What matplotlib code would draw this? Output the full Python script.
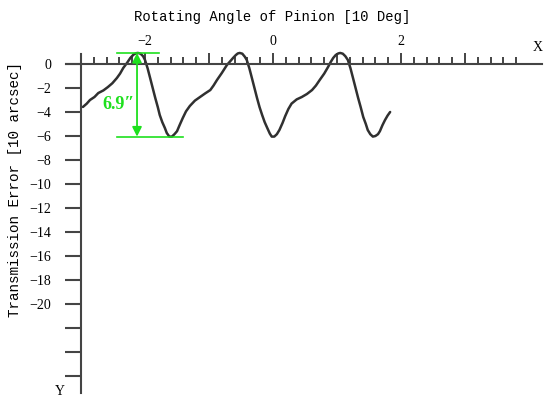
import numpy as np
import matplotlib
matplotlib.use('Agg')
import matplotlib.pyplot as plt
from matplotlib.ticker import FixedLocator, FixedFormatter

# transmission error curve (x: 10 deg, y: 10 arcsec)
angle = [-2.97, -2.91, -2.86, -2.79, -2.73, -2.65, -2.58, -2.51, -2.44, -2.39,
         -2.34, -2.28, -2.23, -2.18, -2.14, -2.11, -2.07, -2.03, -2.0, -1.96,
         -1.92, -1.88, -1.84, -1.80, -1.77, -1.73, -1.69, -1.66, -1.62, -1.58,
         -1.54, -1.50, -1.46, -1.41, -1.36, -1.30, -1.22, -1.14, -1.06, -0.98,
         -0.93, -0.875, -0.80, -0.72, -0.67, -0.625, -0.58, -0.55, -0.52, -0.48,
         -0.44, -0.41, -0.37, -0.33, -0.29, -0.25, -0.21, -0.17, -0.13, -0.09,
         -0.05, -0.02, 0.02, 0.06, 0.10, 0.15, 0.19, 0.24, 0.29, 0.37,
         0.45, 0.53, 0.61, 0.67, 0.73, 0.80, 0.86, 0.90, 0.94, 0.98,
         1.02, 1.05, 1.09, 1.13, 1.17, 1.21, 1.25, 1.29, 1.33, 1.37,
         1.41, 1.45, 1.48, 1.52, 1.56, 1.60, 1.64, 1.67, 1.71, 1.75,
         1.79, 1.83]
error = [-3.58, -3.3, -3.0, -2.75, -2.42, -2.2, -1.92, -1.6, -1.17, -0.8,
         -0.33, 0.1, 0.5, 0.78, 0.9, 0.92, 0.86, 0.65, 0.33, -0.35,
         -1.17, -2.0, -2.83, -3.6, -4.25, -4.85, -5.33, -5.75, -6.05, -6.05,
         -5.85, -5.6, -5.1, -4.5, -3.95, -3.5, -3.05, -2.75, -2.45, -2.17,
         -1.8, -1.33, -0.75, -0.08, 0.22, 0.5, 0.75, 0.88, 0.92, 0.86,
         0.6, 0.33, -0.35, -1.17, -2.0, -2.83, -3.6, -4.25, -4.85, -5.33,
         -5.8, -6.05, -6.05, -5.85, -5.5, -4.9, -4.35, -3.75, -3.3, -2.95,
         -2.75, -2.5, -2.17, -1.8, -1.33, -0.8, -0.25, 0.15, 0.5, 0.75,
         0.88, 0.92, 0.86, 0.65, 0.33, -0.35, -1.17, -2.0, -2.83, -3.6,
         -4.42, -5.0, -5.5, -5.85, -6.05, -6.0, -5.85, -5.6, -5.1, -4.67,
         -4.3, -4.0]

x_major = [-3, -2, -1, 0, 1, 2, 3]
x_labels = ['', '\u22122', '', '0', '', '2', '']
x_minor = np.arange(-2.8, 3.81, 0.2)
y_ticks = [0, -2, -4, -6, -8, -10, -12, -14, -16, -18, -20, -22, -24, -26]
y_labels = ['0'] + ['\u2212%d' % -v for v in y_ticks[1:11]] + ['', '', '']

axis_col = '#444444'
green = '#1ee01e'

fig = plt.figure(figsize=(5.5, 4.05), dpi=100)
ax = fig.add_axes([0, 0, 1, 1])
ax.set_xlim(-4.266, 4.328)
ax.set_ylim(-28.417, 5.333)

ax.plot(angle, error, color='#303030', lw=1.8, solid_joinstyle='round',
        solid_capstyle='round')

# axes drawn as crossing lines
for s in ['bottom', 'right']:
    ax.spines[s].set_visible(False)
ax.spines['top'].set_position(('data', 0))
ax.spines['top'].set_bounds(-3.23, 4.2)
ax.spines['left'].set_position(('data', -3))
ax.spines['left'].set_bounds(-27.4, 0.8)
for s in ['top', 'left']:
    ax.spines[s].set_color(axis_col)
    ax.spines[s].set_linewidth(1.5)

ax.xaxis.tick_top()
ax.xaxis.set_major_locator(FixedLocator(x_major))
ax.xaxis.set_major_formatter(FixedFormatter(x_labels))
ax.xaxis.set_minor_locator(FixedLocator(x_minor))
ax.tick_params(axis='x', which='major', direction='out', length=8, width=1.4,
               color=axis_col, pad=3.5, labelsize=10)
ax.tick_params(axis='x', which='minor', direction='out', length=5, width=1.4,
               color=axis_col)
ax.set_yticks(y_ticks)
ax.set_yticklabels(y_labels)
ax.tick_params(axis='y', direction='out', length=11.5, width=1.5,
               color=axis_col, pad=10, labelsize=10)
for lab in ax.get_xticklabels() + ax.get_yticklabels():
    lab.set_family('Liberation Serif')

ax.text(4.14, 1.35, 'X', fontsize=10, family='Liberation Serif', ha='center', va='center')
ax.text(-3.33, -27.3, 'Y', fontsize=10, family='Liberation Serif', ha='center', va='center')

# peak-to-peak annotation
top = max(error)
bottom = min(error)
ax.plot([-2.44, -1.78], [top, top], color=green, lw=1.2)
ax.plot([-2.44, -1.41], [bottom, bottom], color=green, lw=1.2)
ax.annotate('', xy=(-2.125, top), xytext=(-2.125, bottom),
            arrowprops=dict(arrowstyle='<|-|>', color=green, lw=1.3,
                            mutation_scale=14, shrinkA=0, shrinkB=0))
ax.text(-2.42, -3.4, '6.9\u2033', color=green, fontsize=13, fontweight='bold',
        family=['Liberation Serif', 'DejaVu Serif'], ha='center', va='center')

fig.text(0.495, 0.958, 'Rotating Angle of Pinion [10 Deg]', fontsize=10,
         family='Liberation Mono', ha='center', va='center')
fig.text(0.027, 0.533, 'Transmission Error [10 arcsec]', fontsize=10.3,
         family='Liberation Mono', ha='center', va='center', rotation=90)

fig.savefig('out.png', dpi=100)
